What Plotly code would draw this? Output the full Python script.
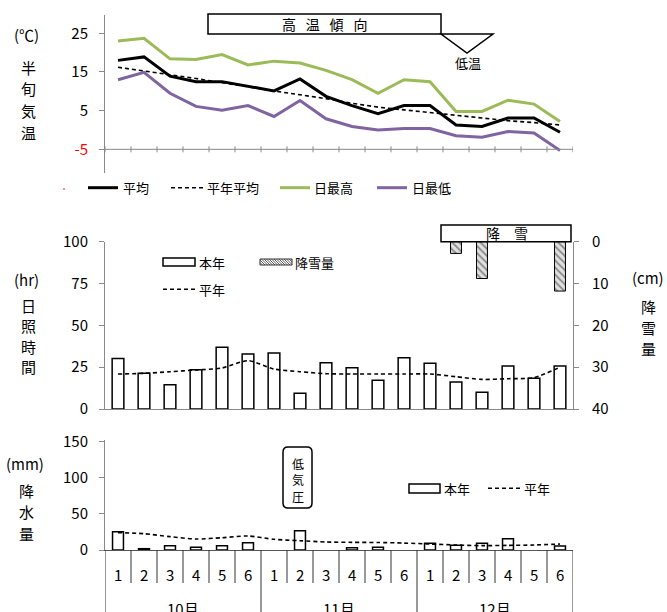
import plotly.graph_objects as go

W, H = 667, 612
FONT = "Noto Sans CJK JP"

# ---------------- data ----------------
months = ["10月", "11月", "12月"]
halves = ["1", "2", "3", "4", "5", "6"]

temp_mean = [18.0, 18.9, 13.9, 12.5, 12.5, 11.3, 10.1, 13.2, 8.7, 6.3, 4.2, 6.3, 6.3, 1.3, 0.9, 3.1, 3.1, -0.6]
temp_normal = [16.2, 15.3, 14.3, 13.3, 12.2, 11.1, 10.1, 9.1, 8.1, 6.9, 5.9, 5.2, 4.5, 3.8, 3.1, 2.4, 1.9, 1.3]
temp_max = [23.0, 23.7, 18.4, 18.2, 19.5, 16.8, 17.8, 17.3, 15.4, 13.0, 9.5, 13.0, 12.5, 4.8, 4.8, 7.7, 6.7, 2.2]
temp_min = [13.0, 14.9, 9.5, 6.1, 5.1, 6.3, 3.5, 7.6, 2.9, 0.9, 0.0, 0.4, 0.4, -1.5, -1.9, -0.4, -0.8, -5.3]

sunshine = [30.2, 21.3, 14.5, 23.5, 36.9, 32.9, 33.5, 9.4, 27.7, 24.7, 17.2, 30.7, 27.3, 16.1, 10.0, 25.7, 18.4, 25.7]
sunshine_normal = [20.9, 21.3, 22.3, 23.3, 24.5, 28.9, 23.9, 22.3, 21.1, 20.9, 20.9, 20.9, 20.9, 19.3, 17.7, 18.1, 18.7, 25.0]
snowfall = [0, 0, 0, 0, 0, 0, 0, 0, 0, 0, 0, 0, 0, 2.8, 8.8, 0, 0, 11.8]

rain = [25.4, 1.8, 6.0, 3.7, 6.0, 10.2, 0, 26.8, 0, 3.2, 3.7, 0, 9.2, 6.5, 9.2, 15.7, 0, 5.5]
rain_normal = [24.0, 22.6, 18.5, 15.2, 17.0, 19.4, 14.8, 12.9, 11.1, 10.6, 10.4, 9.6, 8.3, 6.9, 6.0, 6.4, 6.9, 8.3]

n = len(temp_mean)
xs = list(range(n))


def nz(vals):
    return [v if v else None for v in vals]


def X(px):
    return px / W


def Y(py):
    return 1 - py / H


GRAY = "#898989"
GREEN = "#9BBB59"
PURPLE = "#8064A2"

fig = go.Figure()

# ---------------- top: temperature ----------------
fig.add_trace(go.Scatter(x=xs, y=temp_max, mode="lines", line=dict(color=GREEN, width=3),
                         xaxis="x", yaxis="y", name="日最高", showlegend=False))
fig.add_trace(go.Scatter(x=xs, y=temp_min, mode="lines", line=dict(color=PURPLE, width=3),
                         xaxis="x", yaxis="y", name="日最低", showlegend=False))
fig.add_trace(go.Scatter(x=xs, y=temp_normal, mode="lines", line=dict(color="black", width=1.6, dash="4px,3px"),
                         xaxis="x", yaxis="y", name="平年平均", showlegend=False))
fig.add_trace(go.Scatter(x=xs, y=temp_mean, mode="lines", line=dict(color="black", width=3),
                         xaxis="x", yaxis="y", name="平均", showlegend=False))

# ---------------- middle: sunshine / snowfall ----------------
fig.add_trace(go.Bar(x=xs, y=sunshine, width=0.45, marker=dict(color="white", line=dict(color="black", width=1.5)),
                     xaxis="x2", yaxis="y2", name="本年", showlegend=False))
fig.add_trace(go.Scatter(x=xs, y=sunshine_normal, mode="lines",
                         line=dict(color="black", width=1.6, dash="4px,3px", shape="spline", smoothing=0.7),
                         xaxis="x2", yaxis="y2", name="平年", showlegend=False))
fig.add_trace(go.Bar(x=xs, y=nz(snowfall), width=0.42,
                     marker=dict(color="white", line=dict(color="black", width=1),
                                 pattern=dict(shape="\\", fgcolor="#333333", bgcolor="#e0e0e0", size=5, solidity=0.35)),
                     xaxis="x2", yaxis="y3", name="降雪量", showlegend=False))

# ---------------- bottom: precipitation ----------------
fig.add_trace(go.Bar(x=xs, y=nz(rain), width=0.42, marker=dict(color="white", line=dict(color="black", width=1.5)),
                     xaxis="x3", yaxis="y4", name="本年", showlegend=False))
fig.add_trace(go.Scatter(x=xs, y=rain_normal, mode="lines",
                         line=dict(color="black", width=1.6, dash="4px,3px", shape="spline", smoothing=0.7),
                         xaxis="x3", yaxis="y4", name="平年", showlegend=False))

xdom = [X(105), X(573)]
tickfont = dict(family=FONT, size=15, color="black")
axcommon = dict(showgrid=False, zeroline=False, showline=True, linecolor=GRAY, linewidth=1,
                ticks="outside", ticklen=5, tickcolor=GRAY, tickfont=tickfont, automargin=False)

fig.update_layout(
    width=W, height=H, margin=dict(l=0, r=0, t=0, b=0, pad=0, autoexpand=False),
    autosize=False,
    paper_bgcolor="white", plot_bgcolor="rgba(0,0,0,0)",
    font=dict(family=FONT, color="black"),
    barmode="overlay",
    xaxis=dict(domain=xdom, range=[-0.5, n - 0.5], visible=False, anchor="y"),
    yaxis=dict(domain=[Y(173.3), Y(15)], range=[-11.2, 29.73], anchor="x",
               tickvals=[-5, 5, 15, 25],
               ticktext=['<span style="color:red">-5</span>', "5", "15", "25"],
               ticklabelstandoff=8, **axcommon),
    xaxis2=dict(domain=xdom, range=[-0.5, n - 0.5], anchor="y2", showgrid=False, zeroline=False,
                showline=True, linecolor=GRAY, showticklabels=False, ticks=""),
    yaxis2=dict(domain=[Y(409), Y(241.7)], range=[0, 100], anchor="x2", tickvals=[0, 25, 50, 75, 100],
                ticklabelstandoff=8, **axcommon),
    yaxis3=dict(range=[40, 0], overlaying="y2", side="right", anchor="x2", tickvals=[0, 10, 20, 30, 40],
                ticklabelstandoff=10, **axcommon),
    xaxis3=dict(domain=xdom, range=[-0.5, n - 0.5], anchor="y4", showgrid=False, zeroline=False,
                showline=True, linecolor="#555555", showticklabels=False, ticks=""),
    yaxis4=dict(domain=[Y(550), Y(440)], range=[0, 152.4], anchor="x3", tickvals=[0, 50, 100, 150],
                ticklabelstandoff=8, **axcommon),
)

shapes = []
ann = []


def text_at(x, y, text, size, xanchor="center", yanchor="middle"):
    ann.append(dict(xref="paper", yref="paper", x=X(x), y=Y(y), text=text, showarrow=False,
                    font=dict(family=FONT, size=size, color="black"), xanchor=xanchor, yanchor=yanchor))


def vertical(x, y_first, step, text, size):
    for j, ch in enumerate(text):
        text_at(x, y_first + j * step, ch, size)


# top chart: horizontal axis at -5 with boundary ticks
shapes.append(dict(type="line", xref="x", yref="y", x0=-0.5, x1=n - 0.5, y0=-5, y1=-5,
                   line=dict(color=GRAY, width=1)))
for k in range(n + 1):
    shapes.append(dict(type="line", xref="x", yref="y", ysizemode="pixel", yanchor=-5,
                       x0=k - 0.5, x1=k - 0.5, y0=-3, y1=3, line=dict(color=GRAY, width=1)))

# bottom chart: category separators and labels
for k in range(n + 1):
    bottom = 612 if k % 6 == 0 else 583
    shapes.append(dict(type="line", xref="x3", yref="paper", x0=k - 0.5, x1=k - 0.5,
                       y0=Y(550), y1=Y(bottom), line=dict(color="#333333", width=1)))
for i in range(n):
    ann.append(dict(xref="x3", yref="paper", x=i, y=Y(574), text=halves[i % 6], showarrow=False,
                    font=dict(family=FONT, size=15, color="black"), xanchor="center", yanchor="middle"))
for m, lab in enumerate(months):
    ann.append(dict(xref="x3", yref="paper", x=m * 6 + 2.5, y=Y(596), text=lab, showarrow=False,
                    font=dict(family=FONT, size=15, color="black"), xanchor="center", yanchor="top"))

# axis titles
text_at(27, 34, "(℃)", 15)
vertical(28, 67, 21.7, "半旬気温", 15)
text_at(27, 280, "(hr)", 15)
vertical(28, 305, 20.5, "日照時間", 15)
text_at(648, 278, "(cm)", 15)
vertical(648, 306.7, 20.8, "降雪量", 15)
text_at(25, 463, "(mm)", 15)
vertical(27, 490, 21.7, "降水量", 15)


def leg_line(x0, x1, y, color, width, dash=None):
    ln = dict(color=color, width=width)
    if dash:
        ln["dash"] = dash
    shapes.append(dict(type="line", xref="paper", yref="paper", x0=X(x0), x1=X(x1), y0=Y(y), y1=Y(y), line=ln))


def leg_box(x0, x1, y0, y1):
    shapes.append(dict(type="rect", xref="paper", yref="paper", x0=X(x0), x1=X(x1), y0=Y(y1), y1=Y(y0),
                       line=dict(color="black", width=1.5), fillcolor="white"))


# top legend
leg_line(88, 118, 187.7, "black", 3)
text_at(121, 187.7, "平均", 13, "left")
leg_line(171, 203, 187.7, "black", 1.6, "4px,3px")
text_at(205, 187.7, "平年平均", 13, "left")
leg_line(280, 310, 187.7, GREEN, 3)
text_at(312, 187.7, "日最高", 13, "left")
leg_line(377, 407, 187.7, PURPLE, 3)
text_at(410, 187.7, "日最低", 13, "left")
shapes.append(dict(type="circle", xref="paper", yref="paper", x0=X(63.5), x1=X(64.5), y0=Y(189.5), y1=Y(188.5),
                   line=dict(color="red", width=0.5), fillcolor="red"))

# middle legend
leg_box(163, 195, 258, 266)
text_at(197, 262, "本年", 13, "left")
hx0, hx1, hy0, hy1 = 260, 292, 259, 265
shapes.append(dict(type="rect", xref="paper", yref="paper", x0=X(hx0), x1=X(hx1), y0=Y(hy1), y1=Y(hy0),
                   line=dict(color="#333333", width=1), fillcolor="white"))
segs = []
h = hy1 - hy0
s = hx0 - h
while s < hx1:
    ax0, ay0 = s, hy0
    bx1, by1 = s + h, hy1
    if ax0 < hx0:
        ay0 = hy0 + (hx0 - ax0)
        ax0 = hx0
    if bx1 > hx1:
        by1 = hy1 - (bx1 - hx1)
        bx1 = hx1
    if bx1 > ax0:
        segs.append(f"M{X(ax0):.5f},{Y(ay0):.5f} L{X(bx1):.5f},{Y(by1):.5f}")
    s += 2.5
shapes.append(dict(type="path", xref="paper", yref="paper", path=" ".join(segs),
                   line=dict(color="#333333", width=0.8)))
text_at(293, 262, "降雪量", 13, "left")
leg_line(163, 195, 289.3, "black", 1.6, "4px,3px")
text_at(197, 289.3, "平年", 13, "left")

# bottom legend
leg_box(409, 440, 484, 493)
text_at(442, 488.3, "本年", 13, "left")
leg_line(488, 520, 488.3, "black", 1.6, "4px,3px")
text_at(522, 488.3, "平年", 13, "left")

# annotation boxes
shapes.append(dict(type="rect", xref="paper", yref="paper", x0=X(208), x1=X(441), y0=Y(34), y1=Y(14),
                   line=dict(color="black", width=1.5), fillcolor="white", layer="above"))
text_at(324, 24, "高\u2002\u2009温\u2002\u2009傾\u2002\u2009向", 14)
shapes.append(dict(type="path", xref="paper", yref="paper",
                   path=f"M{X(441)},{Y(34)} L{X(493)},{Y(34)} L{X(467)},{Y(53)} Z",
                   line=dict(color="black", width=1.5), fillcolor="white", layer="above"))
text_at(468, 63, "低温", 13)

shapes.append(dict(type="rect", xref="paper", yref="paper", x0=X(441), x1=X(571), y0=Y(241.7), y1=Y(225),
                   line=dict(color="black", width=1.5), fillcolor="white", layer="above"))
text_at(507, 233, "降\u2003雪", 14)

# rounded box 低気圧
bx0, bx1, by0, by1, r = 283, 312, 447, 508, 5
p = (f"M{X(bx0 + r)},{Y(by0)} L{X(bx1 - r)},{Y(by0)} Q{X(bx1)},{Y(by0)} {X(bx1)},{Y(by0 + r)} "
     f"L{X(bx1)},{Y(by1 - r)} Q{X(bx1)},{Y(by1)} {X(bx1 - r)},{Y(by1)} "
     f"L{X(bx0 + r)},{Y(by1)} Q{X(bx0)},{Y(by1)} {X(bx0)},{Y(by1 - r)} "
     f"L{X(bx0)},{Y(by0 + r)} Q{X(bx0)},{Y(by0)} {X(bx0 + r)},{Y(by0)} Z")
shapes.append(dict(type="path", xref="paper", yref="paper", path=p,
                   line=dict(color="black", width=1.5), fillcolor="white", layer="above"))
vertical(297.5, 463, 16.5, "低気圧", 12)

fig.update_layout(shapes=shapes, annotations=ann)
fig.write_html("out.html", config={"displayModeBar": False},
               post_script="document.body.style.margin='0';document.body.style.overflow='hidden';")
